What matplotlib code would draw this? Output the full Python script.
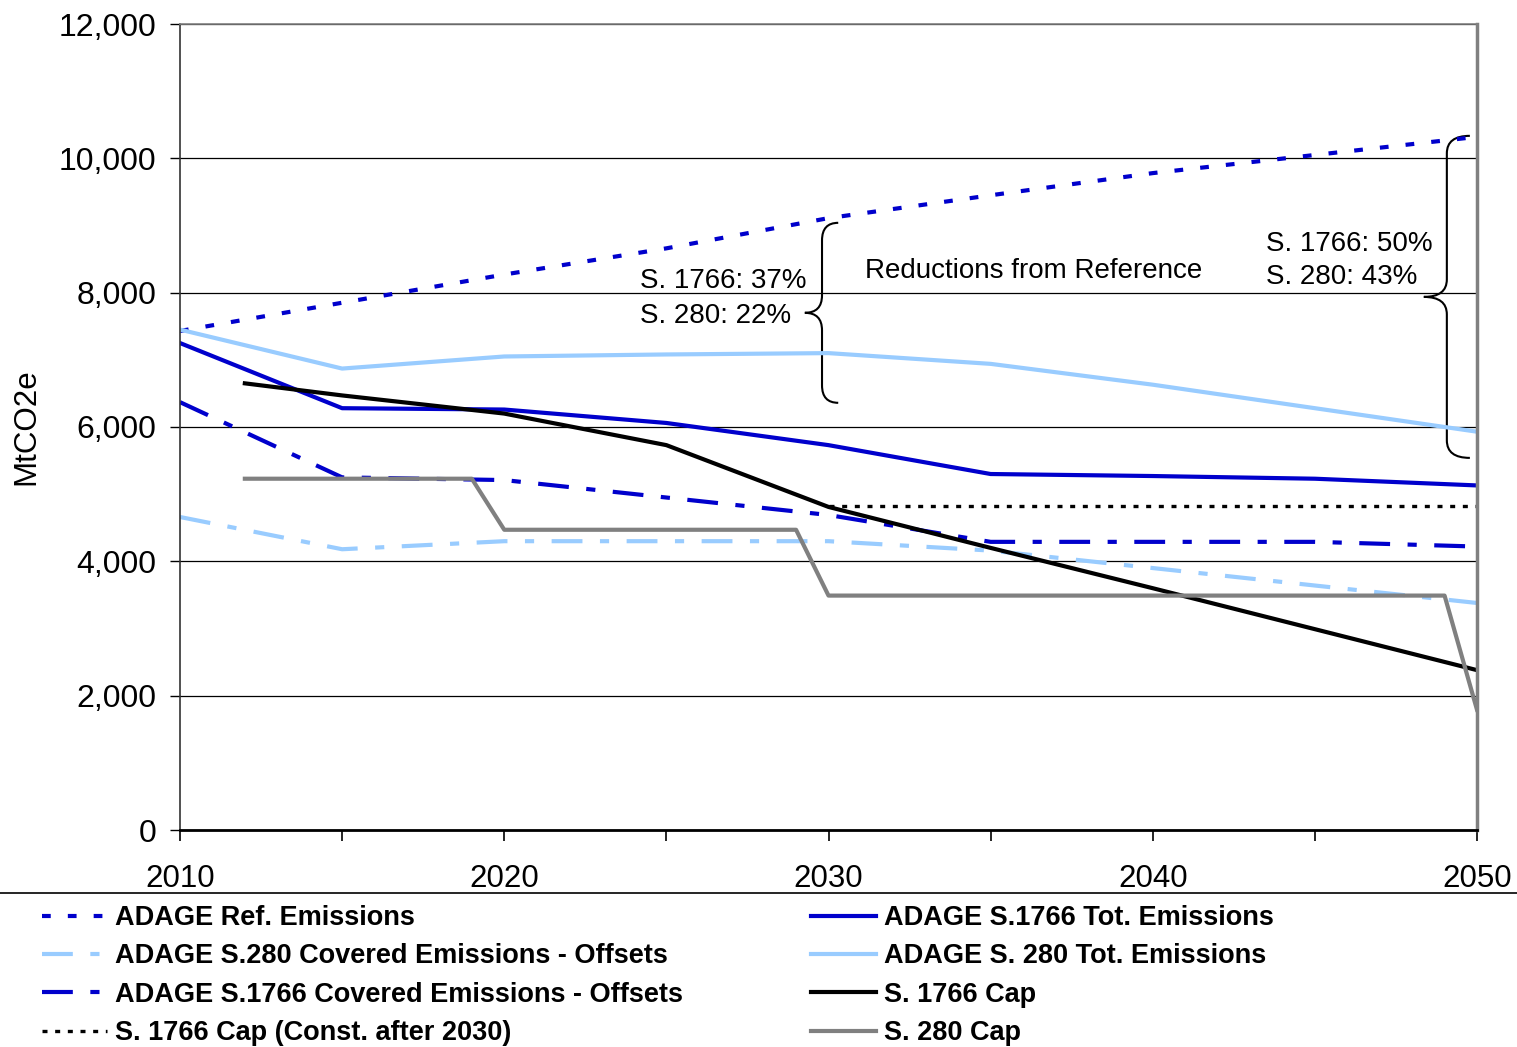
import matplotlib
matplotlib.use("Agg")
import matplotlib.pyplot as plt
from matplotlib.lines import Line2D
from matplotlib.path import Path
from matplotlib.patches import PathPatch
from matplotlib.ticker import FuncFormatter, MultipleLocator

plt.rcParams['font.family'] = ['Liberation Sans', 'DejaVu Sans']

years5 = [2010, 2015, 2020, 2025, 2030, 2035, 2040, 2045, 2050]
ref_emissions = [7430, 7850, 8270, 8660, 9110, 9450, 9780, 10050, 10320]
s1766_tot = [7250, 6280, 6260, 6060, 5730, 5300, 5270, 5230, 5130]
s280_tot = [7450, 6870, 7050, 7080, 7100, 6940, 6630, 6280, 5930]
s1766_cov = [6370, 5250, 5210, 4950, 4690, 4290, 4290, 4290, 4220]
s280_cov = [4660, 4180, 4300, 4300, 4300, 4160, 3900, 3640, 3380]

cap1766_years = [2012, 2015, 2020, 2025, 2030, 2035, 2040, 2045, 2050]
cap1766 = [6650, 6470, 6200, 5730, 4810, 4200, 3600, 2990, 2380]
cap1766_const_years = [2030, 2050]
cap1766_const = [4820, 4820]
cap280_years = [2012, 2019, 2020, 2029, 2030, 2049, 2050]
cap280 = [5230, 5230, 4470, 4470, 3490, 3490, 1790]

BLUE = '#0000CC'
LBLUE = '#99CCFF'
GRAY = '#808080'

fig = plt.figure(figsize=(15.17, 10.47), dpi=100)
ax = fig.add_axes([180/1517, 1-830/1047, 1297/1517, 806/1047])

lw = 3.0
h_ref, = ax.plot(years5, ref_emissions, color=BLUE, lw=lw, dashes=(2.1, 4.1),
                 label='ADAGE Ref. Emissions')
h_280cov, = ax.plot(years5, s280_cov, color=LBLUE, lw=lw, dashes=(7.4, 4.2, 2.2, 4.2),
                    label='ADAGE S.280 Covered Emissions - Offsets')
h_1766cov, = ax.plot(years5, s1766_cov, color=BLUE, lw=lw, dashes=(7.4, 4.2, 2.2, 4.2),
                     label='ADAGE S.1766 Covered Emissions - Offsets')
h_const, = ax.plot(cap1766_const_years, cap1766_const, color='black', lw=2.4,
                   dashes=(1.5, 2.3), label='S. 1766 Cap (Const. after 2030)')
h_1766tot, = ax.plot(years5, s1766_tot, color=BLUE, lw=lw, label='ADAGE S.1766 Tot. Emissions')
h_280tot, = ax.plot(years5, s280_tot, color=LBLUE, lw=lw, label='ADAGE S. 280 Tot. Emissions')
h_cap1766, = ax.plot(cap1766_years, cap1766, color='black', lw=lw, label='S. 1766 Cap')
h_cap280, = ax.plot(cap280_years, cap280, color=GRAY, lw=lw, label='S. 280 Cap')

ax.set_xlim(2010, 2050)
ax.set_ylim(0, 12000)
ax.set_xticks([2010, 2015, 2020, 2025, 2030, 2035, 2040, 2045, 2050])
ax.set_xticklabels(['2010', '', '2020', '', '2030', '', '2040', '', '2050'])
ax.yaxis.set_major_locator(MultipleLocator(2000))
ax.yaxis.set_major_formatter(FuncFormatter(lambda v, p: f'{int(v):,}'))
ax.tick_params(axis='x', direction='out', length=8, width=1.2, labelsize=22.5, pad=16.5)
ax.tick_params(axis='y', direction='out', length=7, width=1.0, labelsize=23, pad=10)
ax.grid(axis='y', color='black', lw=0.9)
ax.set_axisbelow(True)
ax.spines['left'].set_color('#333333'); ax.spines['left'].set_linewidth(1.2)
ax.spines['bottom'].set_color('black'); ax.spines['bottom'].set_linewidth(2)
ax.spines['top'].set_color(GRAY); ax.spines['top'].set_linewidth(1.2)
ax.spines['right'].set_color(GRAY); ax.spines['right'].set_linewidth(2.5)
ax.set_ylabel('MtCO2e', fontsize=22.5)
ax.yaxis.set_label_coords(-0.107, 0.5)


def brace(xv, xe, xt, ytop, ybot, ymid, r):
    verts = [(xe, ytop), (xv, ytop), (xv, ytop - r),
             (xv, ymid + r), (xv, ymid), (xt, ymid),
             (xv, ymid), (xv, ymid - r),
             (xv, ybot + r), (xv, ybot), (xe, ybot)]
    codes = [Path.MOVETO, Path.CURVE3, Path.CURVE3,
             Path.LINETO, Path.CURVE3, Path.CURVE3,
             Path.CURVE3, Path.CURVE3,
             Path.LINETO, Path.CURVE3, Path.CURVE3]
    ax.add_patch(PathPatch(Path(verts, codes), fill=False, color='black', lw=1.5,
                           clip_on=False))


brace(2029.80, 2030.30, 2029.27, 9040, 6360, 7700, 260)
brace(2049.07, 2049.78, 2048.36, 10335, 5540, 7937, 260)

ax.text(2024.18, 8176, 'S. 1766: 37%', fontsize=20, va='center', ha='left')
ax.text(2024.18, 7655, 'S. 280: 22%', fontsize=20, va='center', ha='left')
ax.text(2031.12, 8330, 'Reductions from Reference', fontsize=20, va='center', ha='left')
ax.text(2043.49, 8726, 'S. 1766: 50%', fontsize=20, va='center', ha='left')
ax.text(2043.49, 8235, 'S. 280: 43%', fontsize=20, va='center', ha='left')

fig.add_artist(Line2D([0, 1], [1-893/1047, 1-893/1047], transform=fig.transFigure,
                      color='black', lw=1.2))

handles = [h_ref, h_280cov, h_1766cov, h_const, h_1766tot, h_280tot, h_cap1766, h_cap280]
leg = fig.legend(handles=handles, labels=[h.get_label() for h in handles], ncol=2,
                 loc='upper left', bbox_to_anchor=(42/1517, 1-905/1047),
                 frameon=False, borderpad=0, borderaxespad=0,
                 prop={'weight': 'bold', 'size': 19.5},
                 handlelength=2.4, handletextpad=0.3, columnspacing=4.72,
                 labelspacing=0.46)

fig.savefig('out.png', dpi=100)
